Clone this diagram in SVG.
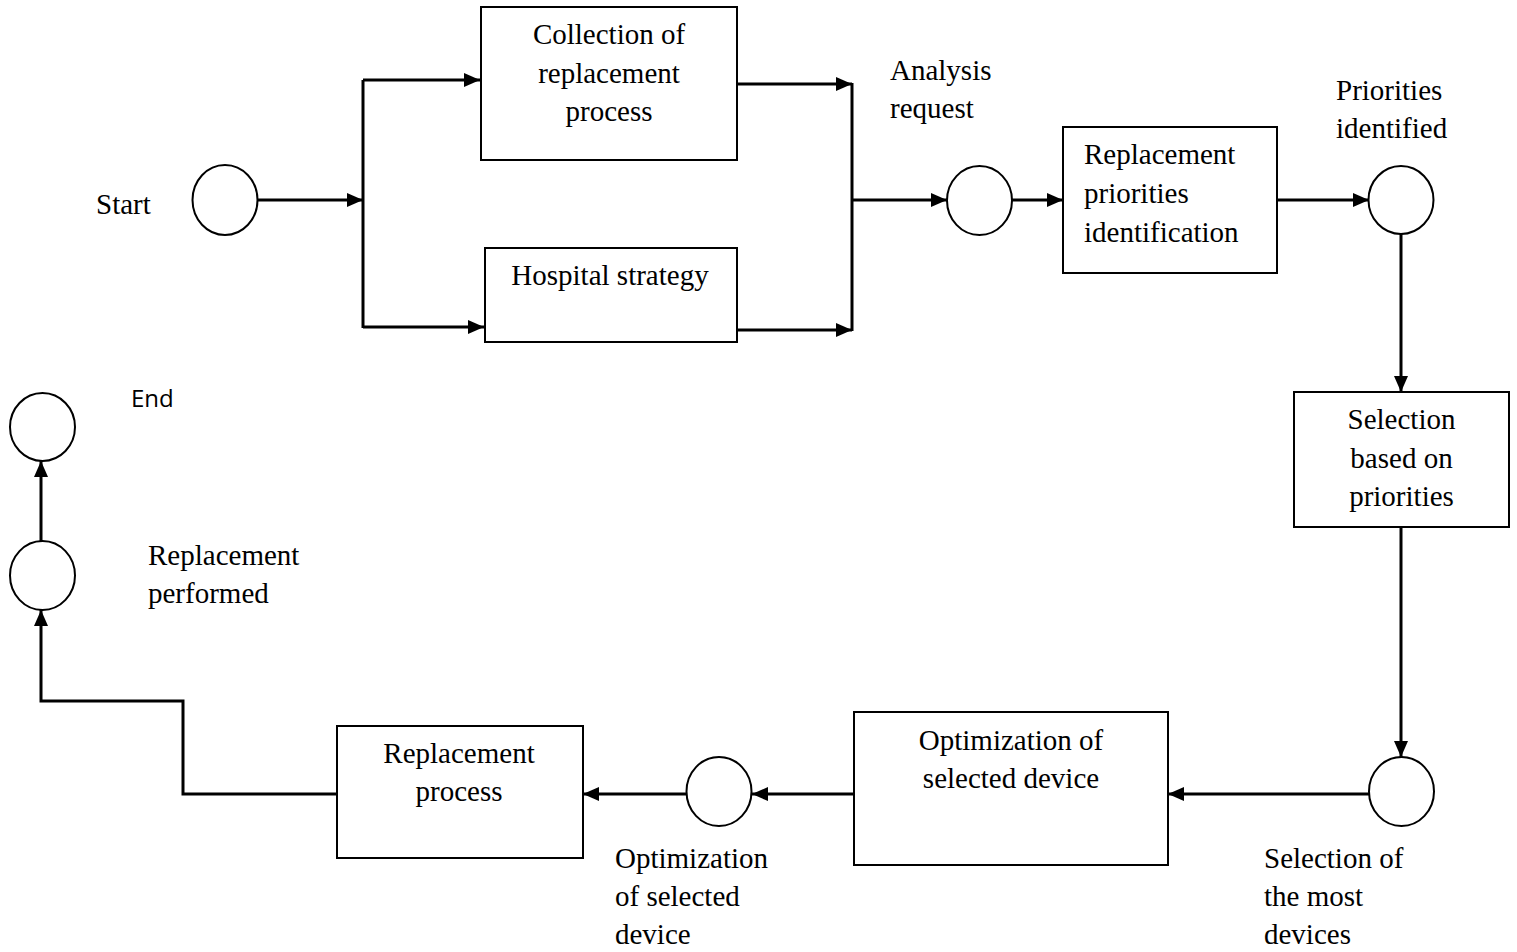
<svg xmlns="http://www.w3.org/2000/svg" width="1517" height="952" viewBox="0 0 1517 952">
<style>
.box{fill:#fff;stroke:#000;stroke-width:2}
.circ{fill:#fff;stroke:#000;stroke-width:2}
.con{fill:none;stroke:#000;stroke-width:3}
.t{font-family:"Liberation Serif","Times New Roman",serif;font-size:29px;fill:#000}
.c{text-anchor:middle}
.s{font-family:"Open Sans","Liberation Sans",sans-serif;font-size:24px;fill:#000}
</style>
<defs>
<marker id="ah" markerUnits="userSpaceOnUse" markerWidth="16" markerHeight="14" refX="16" refY="7" orient="auto">
<path d="M0,0 L16,7 L0,14 z" fill="#000"/>
</marker>
</defs>
<rect width="1517" height="952" fill="#fff"/>
<g id="connectors">
<path class="con" d="M258,200 H363" marker-end="url(#ah)"/>
<path class="con" d="M363,80 V328"/>
<path class="con" d="M363,80 H480" marker-end="url(#ah)"/>
<path class="con" d="M363,327 H484" marker-end="url(#ah)"/>
<path class="con" d="M738,84 H852" marker-end="url(#ah)"/>
<path class="con" d="M738,330 H852" marker-end="url(#ah)"/>
<path class="con" d="M852,83 V331"/>
<path class="con" d="M852,200 H947" marker-end="url(#ah)"/>
<path class="con" d="M1012,200 H1063" marker-end="url(#ah)"/>
<path class="con" d="M1277,200 H1369" marker-end="url(#ah)"/>
<path class="con" d="M1401,234 V392" marker-end="url(#ah)"/>
<path class="con" d="M1401,527 V757" marker-end="url(#ah)"/>
<path class="con" d="M1369,794 H1168" marker-end="url(#ah)"/>
<path class="con" d="M855,794 H752" marker-end="url(#ah)"/>
<path class="con" d="M686,794 H583" marker-end="url(#ah)"/>
<path class="con" d="M337,794 H183 V701 H41 V610" marker-end="url(#ah)"/>
<path class="con" d="M41,541 V461" marker-end="url(#ah)"/>
</g>
<g id="start">
<ellipse class="circ" cx="225" cy="200" rx="32.5" ry="35"/>
<text class="t" x="96" y="214">Start</text>
</g>
<g id="collection">
<rect class="box" x="481" y="7" width="256" height="153"/>
<text class="t c" x="609" y="44">Collection of</text>
<text class="t c" x="609" y="83">replacement</text>
<text class="t c" x="609" y="121">process</text>
</g>
<g id="hospital">
<rect class="box" x="485" y="248" width="252" height="94"/>
<text class="t c" x="610" y="285">Hospital strategy</text>
</g>
<g id="analysis">
<ellipse class="circ" cx="979.5" cy="200.5" rx="32.5" ry="34.5"/>
<text class="t" x="890" y="80">Analysis</text>
<text class="t" x="890" y="118">request</text>
</g>
<g id="priorities-identification">
<rect class="box" x="1063" y="127" width="214" height="146"/>
<text class="t" x="1084" y="164">Replacement</text>
<text class="t" x="1084" y="203">priorities</text>
<text class="t" x="1084" y="242">identification</text>
</g>
<g id="priorities-identified">
<ellipse class="circ" cx="1401" cy="200" rx="32.5" ry="34"/>
<text class="t" x="1336" y="100">Priorities</text>
<text class="t" x="1336" y="138">identified</text>
</g>
<g id="selection-priorities">
<rect class="box" x="1294" y="392" width="215" height="135"/>
<text class="t c" x="1401.5" y="429">Selection</text>
<text class="t c" x="1401.5" y="468">based on</text>
<text class="t c" x="1401.5" y="506">priorities</text>
</g>
<g id="selection-most">
<ellipse class="circ" cx="1401.5" cy="791.5" rx="32.5" ry="34.5"/>
<text class="t" x="1264" y="868">Selection of</text>
<text class="t" x="1264" y="906">the most</text>
<text class="t" x="1264" y="944">devices</text>
</g>
<g id="optimization-box">
<rect class="box" x="854" y="712" width="314" height="153"/>
<text class="t c" x="1011" y="750">Optimization of</text>
<text class="t c" x="1011" y="788">selected device</text>
</g>
<g id="optimization-circle">
<ellipse class="circ" cx="719" cy="791.5" rx="32.5" ry="34.5"/>
<text class="t" x="615" y="868">Optimization</text>
<text class="t" x="615" y="906">of selected</text>
<text class="t" x="615" y="944">device</text>
</g>
<g id="replacement-process">
<rect class="box" x="337" y="726" width="246" height="132"/>
<text class="t c" x="459" y="763">Replacement</text>
<text class="t c" x="459" y="801">process</text>
</g>
<g id="replacement-performed">
<ellipse class="circ" cx="42.5" cy="575.5" rx="32.5" ry="34.5"/>
<text class="t" x="148" y="565">Replacement</text>
<text class="t" x="148" y="603">performed</text>
</g>
<g id="end">
<ellipse class="circ" cx="42.5" cy="427" rx="32.5" ry="34"/>
<text class="s" x="131" y="407">End</text>
</g>
</svg>
